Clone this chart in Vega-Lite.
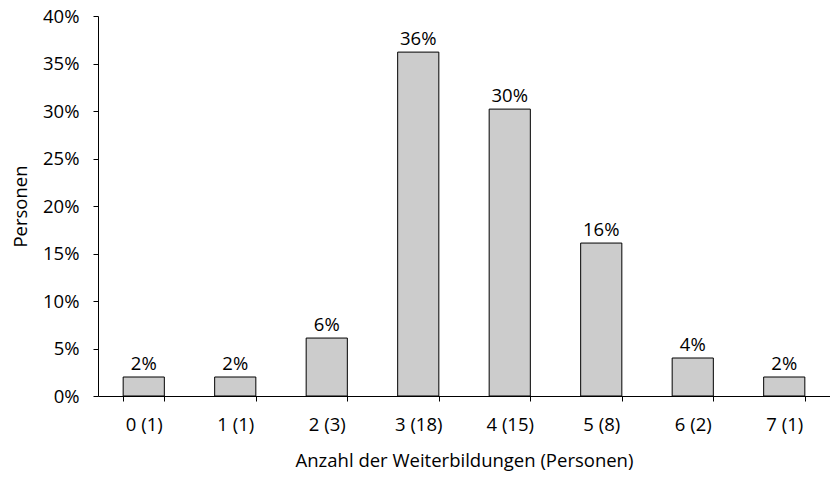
{
  "$schema": "https://vega.github.io/schema/vega-lite/v6.json",
  "autosize": {"type": "none"},
  "width": 732,
  "height": 380,
  "padding": {"left": 98, "top": 16, "right": 0, "bottom": 81},
  "background": "white",
  "config": {
    "view": {"stroke": null},
    "font": "Open Sans",
    "axis": {
      "labelFont": "Open Sans",
      "titleFont": "Open Sans",
      "labelFontSize": 18.5,
      "titleFontSize": 18.5,
      "titleFontWeight": "normal",
      "labelColor": "#000000",
      "titleColor": "#000000",
      "domainColor": "#000000",
      "tickColor": "#000000",
      "grid": false,
      "tickSize": 5
    }
  },
  "data": {
    "values": [
      {"kat": "0 (1)", "anteil": 0.020},
      {"kat": "1 (1)", "anteil": 0.020},
      {"kat": "2 (3)", "anteil": 0.061},
      {"kat": "3 (18)", "anteil": 0.362},
      {"kat": "4 (15)", "anteil": 0.302},
      {"kat": "5 (8)", "anteil": 0.161},
      {"kat": "6 (2)", "anteil": 0.040},
      {"kat": "7 (1)", "anteil": 0.020}
    ]
  },
  "encoding": {
    "x": {
      "field": "kat",
      "type": "nominal",
      "sort": null,
      "scale": {"paddingInner": 0.55, "paddingOuter": 0.275},
      "axis": {
        "title": "Anzahl der Weiterbildungen (Personen)",
        "labelAngle": 0,
        "tickBand": "extent",
        "labelPadding": 14,
        "titlePadding": 18
      }
    },
    "y": {
      "field": "anteil",
      "type": "quantitative",
      "scale": {"domain": [0, 0.4]},
      "axis": {
        "title": "Personen",
        "format": ".0%",
        "values": [0, 0.05, 0.1, 0.15, 0.2, 0.25, 0.3, 0.35, 0.4],
        "labelPadding": 14,
        "titlePadding": 12
      }
    }
  },
  "layer": [
    {
      "mark": {"type": "bar", "fill": "#cccccc", "stroke": "#000000", "strokeWidth": 1}
    },
    {
      "mark": {"type": "text", "baseline": "bottom", "dy": -3, "fontSize": 18.5, "font": "Open Sans", "color": "#000000"},
      "encoding": {
        "text": {"field": "anteil", "type": "quantitative", "format": ".0%"}
      }
    }
  ]
}
